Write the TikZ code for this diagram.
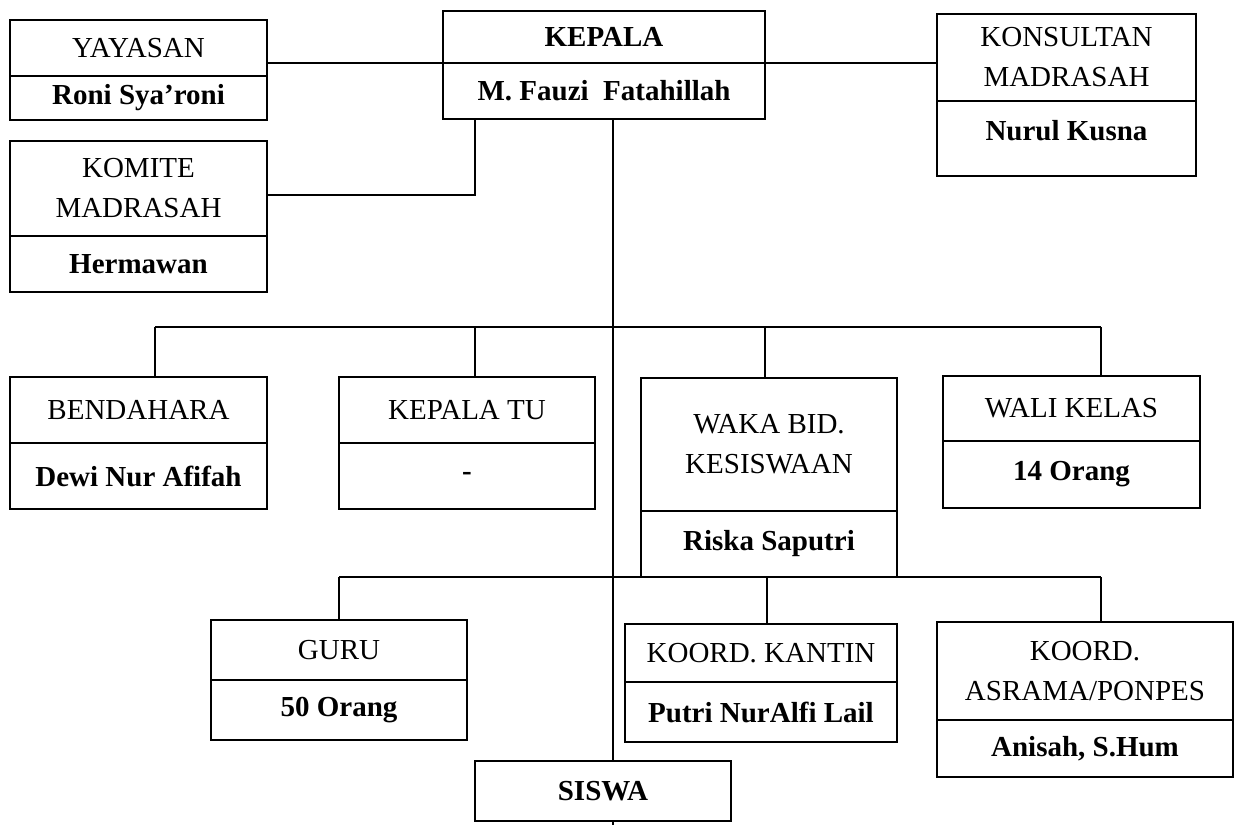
\documentclass[tikz,border=0pt]{standalone}
\usepackage{fontspec}
\setmainfont{Liberation Serif}
\usetikzlibrary{positioning}
\tikzset{jabatan/.style={draw, rectangle, line width=1.4pt, inner sep=0pt, outer sep=0pt, align=center, font=\fontsize{29}{40}\selectfont},
         nama/.style={jabatan, font=\fontsize{29}{40}\selectfont\bfseries},
         garis/.style={line width=1.4pt}}

\begin{document}
\begin{tikzpicture}[x=1pt,y=-1pt]
   \useasboundingbox (0,0) rectangle (1237,825);
   % baris atas
   \node[jabatan, minimum width=257pt, minimum height=56pt, anchor=north west] (yayasanT) at (10,20) {YAYASAN};
   \node[nama, minimum width=257pt, minimum height=44pt, below=0pt of yayasanT] (yayasanN) {Roni Sya’roni};
   \node[nama, minimum width=322pt, minimum height=52pt, anchor=north west] (kepalaT) at (443,11) {KEPALA};
   \node[nama, minimum width=322pt, minimum height=56pt, below=0pt of kepalaT] (kepalaN) {M. Fauzi \ Fatahillah};
   \node[jabatan, minimum width=259pt, minimum height=87pt, anchor=north west] (konsultanT) at (937,14) {KONSULTAN\\MADRASAH};
   \node[nama, minimum width=259pt, minimum height=75pt, below=0pt of konsultanT, text depth=17pt] (konsultanN) {Nurul Kusna};
   \node[jabatan, minimum width=257pt, minimum height=95pt, anchor=north west] (komiteT) at (10,141) {KOMITE\\MADRASAH};
   \node[nama, minimum width=257pt, minimum height=56pt, below=0pt of komiteT] (komiteN) {Hermawan};
   % baris kedua
   \node[jabatan, minimum width=257pt, minimum height=66pt, anchor=north west] (bendaharaT) at (10,377) {BENDAHARA};
   \node[nama, minimum width=257pt, minimum height=66pt, below=0pt of bendaharaT] (bendaharaN) {Dewi Nur Afifah};
   \node[jabatan, minimum width=256pt, minimum height=66pt, anchor=north west] (kepalatuT) at (339,377) {KEPALA TU};
   \node[nama, minimum width=256pt, minimum height=66pt, below=0pt of kepalatuT] (kepalatuN) {-};
   \node[jabatan, minimum width=256pt, minimum height=133pt, anchor=north west] (wakaT) at (641,378) {WAKA BID.\\KESISWAAN};
   \node[nama, minimum width=256pt, minimum height=66pt, below=0pt of wakaT] (wakaN) {Riska Saputri};
   \node[jabatan, minimum width=257pt, minimum height=65pt, anchor=north west] (waliT) at (943,376) {WALI KELAS};
   \node[nama, minimum width=257pt, minimum height=67pt, below=0pt of waliT] (waliN) {14 Orang};
   % baris ketiga
   \node[jabatan, minimum width=256pt, minimum height=60pt, anchor=north west] (guruT) at (211,620) {GURU};
   \node[nama, minimum width=256pt, minimum height=60pt, below=0pt of guruT] (guruN) {50 Orang};
   \node[jabatan, minimum width=272pt, minimum height=58pt, anchor=north west] (kantinT) at (625,624) {KOORD. KANTIN};
   \node[nama, minimum width=272pt, minimum height=60pt, below=0pt of kantinT] (kantinN) {Putri NurAlfi Lail};
   \node[jabatan, minimum width=296pt, minimum height=98pt, anchor=north west] (asramaT) at (937,622) {KOORD.\\ASRAMA/PONPES};
   \node[nama, minimum width=296pt, minimum height=57pt, below=0pt of asramaT] (asramaN) {Anisah, S.Hum};
   \node[nama, minimum width=256pt, minimum height=60pt, anchor=north west] (siswa) at (475,761) {SISWA};
   % titik cabang
   \coordinate (cabang) at (475,195);
   \coordinate (bus1) at (613,327);
   \coordinate (bus2) at (613,577);
   \coordinate (ujung) at (613,825);
   \coordinate (d1) at (155,327);
   \coordinate (d2) at (475,327);
   \coordinate (d3) at (765,327);
   \coordinate (d4) at (1101,327);
   \coordinate (g1) at (339,577);
   \coordinate (g2) at (767,577);
   \coordinate (g3) at (1101,577);
   % garis
   \draw[garis] (kepalaT.south west) -- (kepalaT.south west -| yayasanT.east);
   \draw[garis] (kepalaT.south east) -- (kepalaT.south east -| konsultanT.west);
   \draw[garis] (kepalaN.south -| cabang) -- (cabang) -- (cabang -| komiteT.east);
   \draw[garis] (kepalaN.south -| bus1) -- (siswa.north -| bus1);
   \draw[garis] (siswa.south -| bus1) -- (ujung);
   \draw[garis] (d1) -- (d4);
   \draw[garis] (g1) -- (g3);
   \foreach \d/\n in {d1/bendaharaT, d2/kepalatuT, d3/wakaT, d4/waliT, g1/guruT, g2/kantinT, g3/asramaT}
     \draw[garis] (\d) -- (\d |- \n.north);
\end{tikzpicture}
\end{document}
